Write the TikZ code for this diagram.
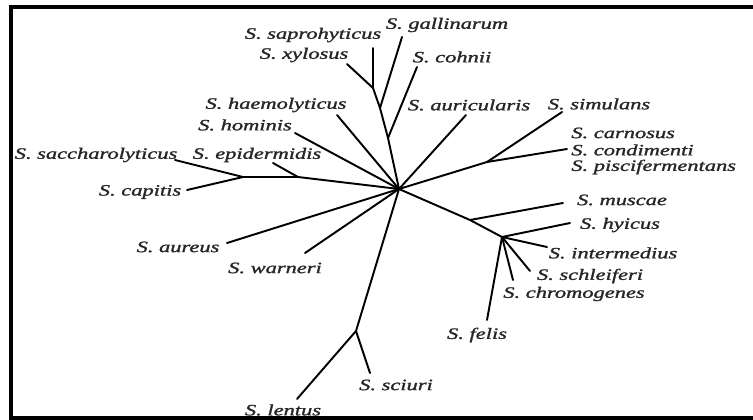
\documentclass[tikz,border=0pt]{standalone}
\usepackage{fontspec}
\setmainfont{Liberation Serif}[ItalicFeatures={FakeBold=1.2}]
\usepackage{graphicx}
\newcommand{\sname}[1]{\scalebox{1.42}[1]{\itshape S.\ #1}}

\begin{document}
\begin{tikzpicture}[
  x=0.02cm, y=-0.02cm,
  br/.style={line width=1.1pt, line cap=round},
  sp/.style={font=\fontsize{9}{10}\selectfont, inner sep=0pt, text=black!85},
]
\useasboundingbox (0,0) rectangle (753,419);
\draw[line width=1.8pt] (753,7) -- (11,7) -- (11,418) -- (753,418);

% branch points
\coordinate (hub) at (399,189);
\coordinate (a1) at (388,138);
\coordinate (a2) at (380,108);
\coordinate (a3) at (373,88);
\coordinate (b1) at (487,162);
\coordinate (c1) at (243,177);
\coordinate (c2) at (298,177);
\coordinate (d1) at (356,331);
\coordinate (e1) at (470,220);
\coordinate (e2) at (502,237);

% tips
\coordinate (tsap) at (373,48);
\coordinate (txyl) at (347,64);
\coordinate (tgal) at (402,37);
\coordinate (tcoh) at (417,67);
\coordinate (taur) at (466,115);
\coordinate (tsim) at (562,112);
\coordinate (tcar) at (567,149);
\coordinate (thae) at (337,115);
\coordinate (thom) at (295,133);
\coordinate (tepi) at (273,163);
\coordinate (tsac) at (175,160);
\coordinate (tcap) at (187,190);
\coordinate (taus) at (227,243);
\coordinate (twar) at (305,253);
\coordinate (tlen) at (297,399);
\coordinate (tsci) at (370,373);
\coordinate (tmus) at (563,203);
\coordinate (thyi) at (570,223);
\coordinate (tint) at (547,247);
\coordinate (tsch) at (530,271);
\coordinate (tchr) at (513,280);
\coordinate (tfel) at (487,320);

% labels
\node[sp] (sap) at (313,35) {\sname{saprohyticus}};
\node[sp] (xyl) at (304,55) {\sname{xylosus}};
\node[sp] (gal) at (447,25) {\sname{gallinarum}};
\node[sp] (coh) at (452,57) {\sname{cohnii}};
\node[sp] (aur) at (469,105) {\sname{auricularis}};
\node[sp] (sim) at (599,104) {\sname{simulans}};
\node[sp, anchor=west] (car) at (571,133) {\sname{carnosus}};
\node[sp, anchor=west] (con) at (571,150) {\sname{condimenti}};
\node[sp, anchor=west] (pis) at (571,167) {\sname{piscifermentans}};
\node[sp] (hae) at (276,105) {\sname{haemolyticus}};
\node[sp] (hom) at (245,125) {\sname{hominis}};
\node[sp] (epi) at (257,155) {\sname{epidermidis}};
\node[sp] (sac) at (96,155) {\sname{saccharolyticus}};
\node[sp] (cap) at (140,192) {\sname{capitis}};
\node[sp] (aus) at (178,247) {\sname{aureus}};
\node[sp] (war) at (275,268) {\sname{warneri}};
\node[sp] (len) at (283,410) {\sname{lentus}};
\node[sp] (sci) at (396,385) {\sname{sciuri}};
\node[sp] (mus) at (622,200) {\sname{muscae}};
\node[sp] (hyi) at (620,225) {\sname{hyicus}};
\node[sp] (int) at (613,253) {\sname{intermedius}};
\node[sp] (sch) at (590,276) {\sname{schleiferi}};
\node[sp] (chr) at (574,294) {\sname{chromogenes}};
\node[sp] (fel) at (477,335) {\sname{felis}};

% tree
\draw[br] (hub) -- (a1) -- (a2) -- (a3) -- (tsap);
\draw[br] (a3) -- (txyl);
\draw[br] (a2) -- (tgal);
\draw[br] (a1) -- (tcoh);
\draw[br] (hub) -- (taur);
\draw[br] (hub) -- (b1) -- (tsim);
\draw[br] (b1) -- (tcar);
\draw[br] (hub) -- (thae);
\draw[br] (hub) -- (thom);
\draw[br] (hub) -- (c2) -- (c1) -- (tsac);
\draw[br] (c2) -- (tepi);
\draw[br] (c1) -- (tcap);
\draw[br] (hub) -- (taus);
\draw[br] (hub) -- (twar);
\draw[br] (hub) -- (d1) -- (tlen);
\draw[br] (d1) -- (tsci);
\draw[br] (hub) -- (e1) -- (e2) -- (thyi);
\draw[br] (e1) -- (tmus);
\draw[br] (e2) -- (tint);
\draw[br] (e2) -- (tsch);
\draw[br] (e2) -- (tchr);
\draw[br] (e2) -- (tfel);
\end{tikzpicture}
\end{document}
